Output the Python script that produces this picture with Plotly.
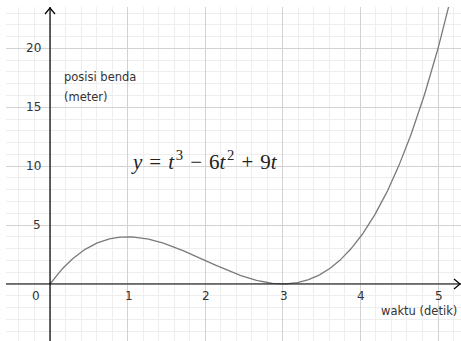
import numpy as np
import plotly.graph_objects as go

# y = t^3 - 6t^2 + 9t  (coefficients, highest power first)
coeffs = [1, -6, 9, 0]
t_start, t_end = 0.0, 5.2
n_samples = 300

x_tick_vals = [1, 2, 3, 4, 5]
x_tick_text = ["1", "2", "3", "4", "5"]
y_tick_vals = [5, 10, 15, 20]
y_tick_text = ["5", "10", "15", "20"]

x_range = [-0.567, 5.296]
y_range = [-4.84, 23.51]

t = np.linspace(t_start, t_end, n_samples)
y = np.polyval(coeffs, t)

tick_font = dict(family="DejaVu Sans", size=12, color="#333333")
label_font = dict(family="DejaVu Sans", size=11.5, color="#333333")

fig = go.Figure()
fig.add_trace(go.Scatter(x=t, y=y, mode="lines",
                         line=dict(color="#7a7a7a", width=1.3),
                         hoverinfo="skip", showlegend=False))

grid_major = "#d2d2d2"
grid_minor = "#eeeeee"
fig.update_xaxes(range=x_range, dtick=1, tick0=0, showgrid=True, gridcolor=grid_major,
                 gridwidth=1, zeroline=False, showticklabels=False, ticks="",
                 minor=dict(dtick=0.2, tick0=0, showgrid=True, gridcolor=grid_minor, gridwidth=1))
fig.update_yaxes(range=y_range, dtick=5, tick0=0, showgrid=True, gridcolor=grid_major,
                 gridwidth=1, zeroline=False, showticklabels=False, ticks="",
                 minor=dict(dtick=1, tick0=0, showgrid=True, gridcolor=grid_minor, gridwidth=1))

# axis lines through the origin
fig.add_shape(type="line", xref="x", yref="paper", x0=0, x1=0, y0=0, y1=1,
              line=dict(color="black", width=1.2))
fig.add_shape(type="line", xref="paper", yref="y", x0=0, x1=1, y0=0, y1=0,
              line=dict(color="black", width=1.2))
# open arrowheads at the ends of the axes
fig.add_shape(type="path", xref="x", yref="paper", xsizemode="pixel", ysizemode="pixel",
              xanchor=0, yanchor=1, path="M -5 -7 L 0 -1 L 5 -7",
              line=dict(color="black", width=1.2))
fig.add_shape(type="path", xref="paper", yref="y", xsizemode="pixel", ysizemode="pixel",
              xanchor=1, yanchor=0, path="M -7 5 L -1 0 L -7 -5",
              line=dict(color="black", width=1.2))

annotations = []
for v, s in zip(x_tick_vals, x_tick_text):
    annotations.append(dict(x=v, y=0, text=s, showarrow=False, xanchor="center",
                            yanchor="middle", yshift=-12, xshift=1, font=tick_font))
for v, s in zip(y_tick_vals, y_tick_text):
    annotations.append(dict(x=0, y=v, text=s, showarrow=False, xanchor="right",
                            yanchor="middle", xshift=-7, font=tick_font))
annotations.append(dict(x=0, y=0, text="0", showarrow=False, xanchor="right",
                        yanchor="middle", xshift=-8, yshift=-12, font=tick_font))
annotations.append(dict(x=0.16, y=17.55, text="posisi benda", showarrow=False,
                        xanchor="left", yanchor="middle", font=label_font))
annotations.append(dict(x=0.16, y=15.9, text="(meter)", showarrow=False,
                        xanchor="left", yanchor="middle", font=label_font))
annotations.append(dict(x=4.24, y=-2.3, text="waktu (detik)", showarrow=False,
                        xanchor="left", yanchor="middle", font=label_font))

hair = "\u200a"
sp = " " + hair
equation = (f"<i>y</i>{sp}={sp}<i>t</i>{hair}<sup>3</sup>{sp}−{sp}6<i>t</i>{hair}<sup>2</sup>"
            f"{sp}+{sp}9<i>t</i>")
annotations.append(dict(x=1.02, y=10.5, text=equation,
                        showarrow=False, xanchor="left", yanchor="middle",
                        font=dict(family="Liberation Serif", size=21, color="#222222")))

fig.update_layout(width=461, height=341, margin=dict(l=6, r=0, t=7, b=0),
                  paper_bgcolor="white", plot_bgcolor="white",
                  annotations=annotations, showlegend=False)

fig.write_html("out.html")
